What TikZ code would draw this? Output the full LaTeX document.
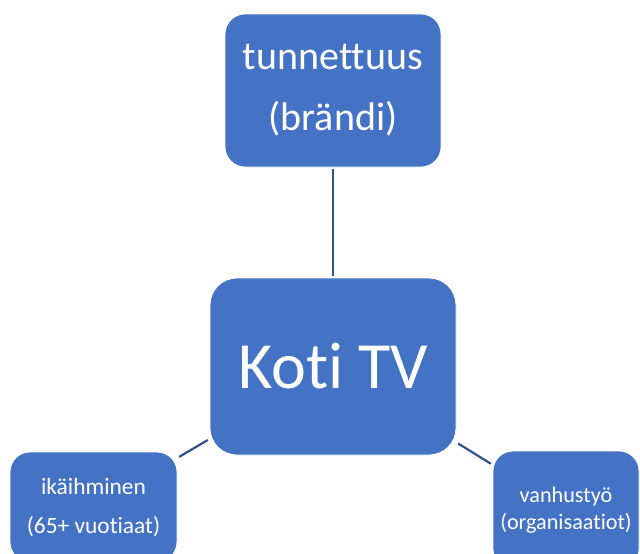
\documentclass[tikz,border=0pt]{standalone}
\usepackage{fontspec}
\setmainfont{Carlito}[Ligatures={NoCommon}]
\definecolor{boxblue}{HTML}{4472C4}
\definecolor{lineblue}{HTML}{2F528F}
\begin{document}
\begin{tikzpicture}[x=1pt,y=-1pt,
  box/.style={rectangle, draw=white, line width=0.8pt, fill=boxblue, text=white, align=center, inner sep=0pt},
  link/.style={draw=lineblue, line width=2.2pt, shorten <=2pt, shorten >=2pt}]
\clip (0,0) rectangle (640,554);
\node[box, rounded corners=20pt, minimum width=216pt, minimum height=153pt,
      font=\fontsize{40}{61}\selectfont] (top) at (333,90.5) {tunnettuus\\(brändi)};
\node[box, rounded corners=27pt, minimum width=246pt, minimum height=177pt,
      font=\fontsize{66}{80}\selectfont] (center) at (333,366.5) {Koti TV};
\node[box, rounded corners=20pt, minimum width=167pt, minimum height=110pt,
      font=\fontsize{23.4}{39}\selectfont] (left) at (93.5,507) {ikäihminen\\(65+ vuotiaat)};
\node[box, rounded corners=20pt, minimum width=146pt, minimum height=118pt,
      font=\fontsize{22.2}{27}\selectfont] (right) at (566,510) {vanhustyö\\(organisaatiot)};
\draw[link] (top) -- (center);
\draw[link] (center) -- (left);
\draw[link] (center) -- (right);
\end{tikzpicture}
\end{document}
